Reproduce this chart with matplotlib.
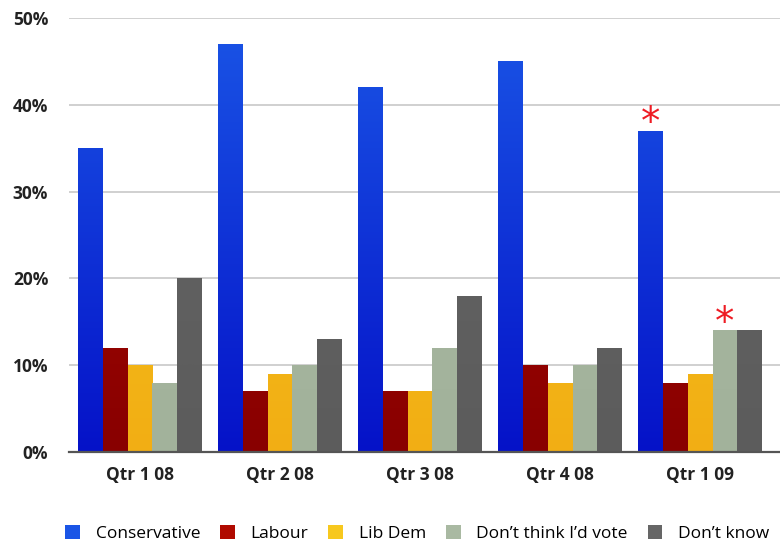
import matplotlib.pyplot as plt
import matplotlib.colors as mcolors
import numpy as np
from matplotlib.patches import Patch

quarters = ['Qtr 1 08', 'Qtr 2 08', 'Qtr 3 08', 'Qtr 4 08', 'Qtr 1 09']
series = ['Conservative', 'Labour', 'Lib Dem', "Don\u2019t think I\u2019d vote", "Don\u2019t know"]
conservative = [35, 47, 42, 45, 37]
labour = [12, 7, 7, 10, 8]
lib_dem = [10, 9, 7, 8, 9]
dont_vote = [8, 10, 12, 10, 14]
dont_know = [20, 13, 18, 12, 14]
# (series index, quarter index) marked with a red asterisk
starred = [(0, 4), (3, 4)]

values = [conservative, labour, lib_dem, dont_vote, dont_know]
# top / bottom colours of each bar gradient
grads = [('#1a55e6', '#0512c8'), ('#b00a00', '#880000'), ('#f7c81e', '#f2ae14'),
         ('#a9b9a2', '#a2b29b'), ('#666666', '#5c5c5c')]

plt.rcParams['font.family'] = ['Open Sans', 'DejaVu Sans']

fig = plt.figure(figsize=(7.8, 5.43), dpi=100)
ax = fig.add_axes([0.0885, 0.1676, 0.9115, 0.7993])

x = np.arange(len(quarters))
w = 0.177
for i, vals in enumerate(values):
    pos = x + (i - 2) * w
    bars = ax.bar(pos, vals, width=w, color=grads[i][1], zorder=3, linewidth=0)
    cmap = mcolors.LinearSegmentedColormap.from_list('g%d' % i, [grads[i][1], grads[i][0]])
    for b in bars:
        bx, bw = b.get_x(), b.get_width()
        grad = np.linspace(0, 1, 256).reshape(-1, 1)
        im = ax.imshow(grad, extent=[bx, bx + bw, 0, 50], origin='lower', cmap=cmap,
                       aspect='auto', zorder=3.5, interpolation='bicubic')
        im.set_clip_path(b)

for si, qi in starred:
    ax.text(x[qi] + (si - 2) * w, values[si][qi] + 0.9, '*', color='#ee1c24',
            fontsize=28, ha='center', va='center', family='DejaVu Sans', zorder=5)

ax.set_xlim(-0.507, 4.57)
ax.set_ylim(0, 50)
ax.set_yticks(range(0, 51, 10))
ax.set_yticklabels(['%d%%' % v for v in range(0, 51, 10)])
ax.set_xticks(x)
ax.set_xticklabels(quarters)
ax.grid(axis='y', color='#c8c8c8', linewidth=1.2, zorder=0)
ax.set_axisbelow(True)
for s in ['left', 'right', 'top']:
    ax.spines[s].set_visible(False)
ax.spines['bottom'].set_color('#555555')
ax.spines['bottom'].set_linewidth(1.6)
ax.spines['bottom'].set_zorder(6)
ax.tick_params(axis='both', length=0, labelsize=12.5, colors='#222222')
ax.tick_params(axis='y', pad=15)
ax.tick_params(axis='x', pad=10)
for t in ax.get_xticklabels() + ax.get_yticklabels():
    t.set_fontweight('bold')

handles = [Patch(facecolor=grads[i][0], edgecolor='none') for i in range(len(series))]
fig.legend(handles, series, loc='center', bbox_to_anchor=(0.535, 0.018), ncol=5,
           frameon=False, fontsize=12.5, handlelength=0.85, handleheight=0.85,
           handletextpad=0.9, columnspacing=1.15, borderaxespad=0)

fig.savefig('out.png', dpi=100)
